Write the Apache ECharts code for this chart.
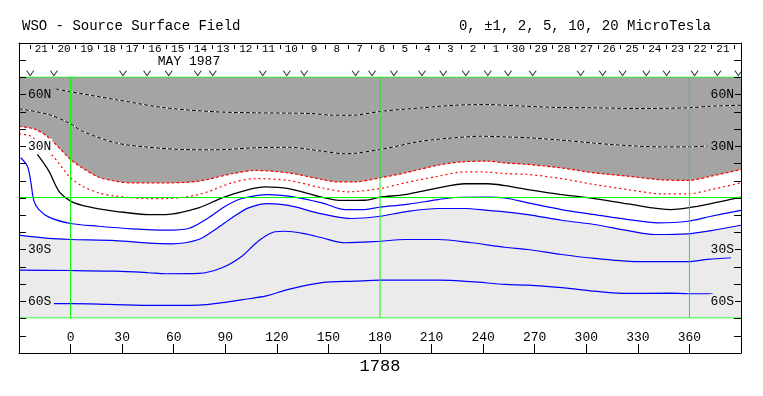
<!DOCTYPE html>
<html><head><meta charset="utf-8">
<script src="https://cdn.jsdelivr.net/npm/echarts@6/dist/echarts.min.js"></script>
<style>html,body{margin:0;padding:0;background:#fff}#c{width:763px;height:396px}</style>
</head><body><div id="c"></div>
<script>
// ---- data ----
const titleText = 'WSO - Source Surface Field';
const levelsText = '0, ±1, 2, 5, 10, 20 MicroTesla';
const monthText = 'MAY 1987';
const rotationText = '1788';
const dayLabels = ['21','20','19','18','17','16','15','14','13','12','11','10','9','8','7','6','5','4','3','2','1','30','29','28','27','26','25','24','23','22','21'];
const latLabels = {'60':'60N','30':'30N','-30':'30S','-60':'60S'};
const obsLon = [-23.5,-9.7,30.5,44.5,57.1,74.0,82.7,111.8,125.8,135.9,165.8,175.4,188.1,204.4,216.8,229.9,242.7,254.5,268.8,296.7,309.5,321.1,334.9,346.7,363.0,376.3,388.5];
const contourP10 = [[-8.7,63.1],[0,61.4],[26.1,56.9],[55.2,52.1],[84.2,49.8],[107.4,49.2],[140.3,48.8],[152,47.8],[163.6,47.8],[181,50.1],[204.2,52.1],[223.6,53.6],[242.7,54.0],[252.6,53.6],[279.7,52.4],[304.8,52.1],[330.2,51.7],[359.2,52.1],[372,53],[390,53.6]];
const contourP5 = [[-30,51.5],[-12.6,48.2],[0,42.8],[6.8,38.5],[26.1,31.8],[45.5,29.2],[64.9,27.9],[84.2,27.7],[107.4,28.9],[126.8,29.2],[146.2,26.9],[159.7,25.4],[180,27.9],[204.2,32.7],[223.6,34.7],[239,35.6],[252.6,35.2],[266.1,34.7],[285.5,33.3],[314.5,30.8],[343.6,29.4],[359,29.4],[370.5,29.9]];
const contourP2 = [[-30,41.4],[-20.3,39.5],[-12.6,34.7],[0,22.1],[6.8,17.2],[16.4,11.8],[26.1,9.5],[35.8,8.5],[55.2,8.5],[74.5,9.5],[93.9,13.8],[107.4,15.7],[126.8,14.3],[146.2,10.5],[155.8,9.1],[165.5,9.1],[180,11.4],[194.5,14.3],[213.9,18.8],[227.4,20.7],[242.9,21.1],[252.6,20.1],[266.1,19.2],[285.5,17.2],[304.8,14.3],[324.2,12.4],[343.6,10.3],[359,9.9],[372.6,12.4],[390,16.3]];
const contourP1 = [[-30,37],[-23.2,35.6],[-10.6,24.4],[0,11.4],[6.8,6.6],[16.4,2.7],[26.1,0.8],[45.5,-0.6],[55.2,-0.6],[74.5,1.7],[93.9,8.5],[107.4,11],[126.8,9.9],[146.2,5.6],[161.6,3.3],[180,5.2],[194.5,8.5],[213.9,12.4],[229.4,14.9],[242.9,14.7],[252.6,13.9],[266.1,13.4],[285.5,11],[304.8,7.5],[324.2,4.6],[343.6,2.1],[359,2.1],[372.6,4.6],[390,8.5]];
const contour0 = [[-19.3,25],[-12.6,15.3],[-6.8,3.7],[0,-2.1],[6.8,-4.6],[16.4,-6.6],[26.1,-8],[45.5,-9.9],[55.2,-9.9],[74.5,-6],[88.1,-0.2],[103.5,4.6],[113.2,6.2],[126.8,5.2],[146.2,0.2],[157.8,-1.7],[171.3,-1.6],[180,0.2],[194.5,1.7],[213.9,5.6],[229.4,8],[242.9,8],[252.6,6.9],[266.1,4.6],[285.5,1.7],[304.8,-0.6],[324.2,-3.7],[349.4,-7],[359,-6],[372.6,-3.5],[390,0.2]];
const contourN1 = [[-29,23.1],[-25.1,18.2],[-23.2,9.5],[-21.3,-2.1],[-18.4,-7],[-12.6,-11.4],[0,-15.1],[16.4,-16.7],[35.8,-18.2],[55.2,-19],[68.7,-18],[80.3,-11.8],[90,-5.1],[99.7,-0.6],[115.1,1.7],[126.8,0.8],[146.2,-3.1],[159.7,-7],[171.3,-7],[180,-5.6],[194.5,-4.1],[213.9,-1.2],[223.6,0],[242.9,0.2],[252.6,-0.3],[266.1,-3.1],[285.5,-7],[304.8,-9.9],[324.2,-12.8],[341.6,-14.7],[359,-13.8],[372.6,-10.9],[390,-7.5]];
const contourN2 = [[-30,-21.9],[-12.6,-23.8],[0,-24.4],[26.1,-25],[45.5,-26.5],[59,-26.9],[74.5,-24.4],[84.2,-18.6],[93.9,-11.8],[103.5,-6],[115.1,-3.5],[126.8,-4.6],[146.2,-9.5],[163.6,-12.2],[180,-10.9],[194.5,-8.3],[213.9,-6.4],[229.4,-6.4],[242.9,-7.5],[252.6,-8.3],[266.1,-9.9],[285.5,-13.2],[304.8,-15.7],[324.2,-19.2],[339.7,-21.5],[359,-21.1],[372.6,-19.2],[390,-16.1]];
const contourN5 = [[-30,-42.2],[0,-42.4],[26.1,-42.8],[45.5,-43.7],[55.2,-44.3],[74.5,-44.1],[88.1,-40.8],[99.7,-34.1],[107.4,-26.9],[113.2,-22.5],[119,-19.9],[124.8,-19.6],[136.5,-21.1],[146.2,-23.4],[159.7,-26.3],[180,-25.4],[194.5,-24.4],[213.9,-24.4],[233.2,-26.3],[252.6,-28.9],[266.1,-30.2],[285.5,-33.1],[304.8,-35.4],[332,-37.3],[359,-37.3],[370.6,-36],[384.2,-35]];
const contourN10 = [[-9.7,-61.7],[0,-61.7],[22.2,-62.1],[49.4,-62.7],[74.5,-62.5],[88.1,-61.1],[103.5,-58.8],[113.2,-57.3],[126.8,-53.4],[146.2,-49.5],[165.5,-48.6],[180,-48],[213.9,-48],[233.2,-48.9],[252.6,-50.5],[266.1,-50.9],[285.5,-52.4],[308.7,-54.8],[324.2,-55.7],[349.4,-55.6],[359,-55.9],[373.5,-55.9]];
const guideLon = [0, 180, 360];
const guideLat = [0, 70, -70];
const lonRange = [-30, 390];
const latRange = [-70, 70];
const obsMarkLat = 72.5;

// ---- chart ----
const FONT = 'Liberation Mono';
const DK = '#a4a4a4', LT = '#ebebeb', GREEN = '#00ff00';
const chart = echarts.init(document.getElementById('c'), null, {renderer: 'canvas'});

const rich = {
  dk: {backgroundColor: DK, padding: [1, 1], fontFamily: FONT, fontSize: 13, color: '#000'},
  wt: {backgroundColor: '#fff', padding: [1, 1], fontFamily: FONT, fontSize: 13, color: '#000'},
  lt: {backgroundColor: LT, padding: [1, 1], fontFamily: FONT, fontSize: 13, color: '#000'}
};
const leftBg = {'60': 'dk', '30': 'wt', '-30': 'lt', '-60': 'lt'};
const rightBg = {'60': 'dk', '30': 'dk', '-30': 'lt', '-60': 'lt'};

function contour(data, color, width, type, z) {
  return {type: 'line', xAxisIndex: 2, yAxisIndex: 2, data, symbol: 'none', smooth: 0.3,
    lineStyle: {color, width, type}, z, silent: true, animation: false};
}
function guide(data) {
  return {type: 'line', xAxisIndex: 2, yAxisIndex: 2, data, symbol: 'none', z: 7, silent: true,
    lineStyle: {color: GREEN, width: 1, type: 'solid', opacity: 1}};
}
const guideSeries = guideLon.map(l => guide([[l, latRange[0]], [l, latRange[1]]]))
  .concat(guideLat.map(b => guide([[lonRange[0], b], [lonRange[1], b]])));

const option = {
  animation: false,
  backgroundColor: '#fff',
  grid: [
    {left: 19, right: 22, top: 43, bottom: 43, outerBoundsMode: 'none', containLabel: false},
    {left: 19, right: 22, top: 77, bottom: 78, outerBoundsMode: 'none', containLabel: false},
    {left: 30, right: 28.7, top: 45, height: 8, outerBoundsMode: 'none', containLabel: false}
  ],
  xAxis: [
    {gridIndex: 0, type: 'value', position: 'bottom', min: lonRange[0], max: lonRange[1], interval: 30, z: 10,
      axisLine: {show: true, onZero: false, lineStyle: {color: '#000', width: 1}},
      axisTick: {show: true, inside: true, length: 9, lineStyle: {color: '#000'}},
      axisLabel: {inside: true, margin: 9, fontFamily: FONT, fontSize: 13, color: '#000',
        formatter: v => (v >= 0 && v <= 360 ? String(v) : '')},
      splitLine: {show: false}},
    {gridIndex: 0, type: 'value', position: 'top', min: lonRange[0], max: lonRange[1], z: 10,
      axisLine: {show: true, onZero: false, lineStyle: {color: '#000', width: 1}},
      axisTick: {show: false}, axisLabel: {show: false}, splitLine: {show: false}},
    {gridIndex: 1, type: 'value', min: lonRange[0], max: lonRange[1], show: false,
      axisLine: {show: false, onZero: false}, splitLine: {show: false}},
    {gridIndex: 2, type: 'category', position: 'top', data: dayLabels, boundaryGap: true, z: 10,
      axisLine: {show: true, onZero: false, lineStyle: {color: '#000', opacity: 0}},
      axisTick: {show: true, inside: true, length: 4, interval: 0, lineStyle: {color: '#000', opacity: 1}},
      axisLabel: {inside: true, margin: -1, interval: 0, fontFamily: FONT, fontSize: 11, color: '#000'}}
  ],
  yAxis: [
    {gridIndex: 0, type: 'value', position: 'left', min: -90, max: 90, interval: 10, z: 10,
      axisLine: {show: true, onZero: false, lineStyle: {color: '#000'}},
      axisTick: {show: true, inside: true, length: 7, lineStyle: {color: '#000'}},
      axisLabel: {inside: true, margin: 8, showMinLabel: false, showMaxLabel: false, rich,
        formatter: v => latLabels[String(v)] ? '{' + leftBg[String(v)] + '|' + latLabels[String(v)] + '}' : ''},
      splitLine: {show: false}},
    {gridIndex: 0, type: 'value', position: 'right', min: -90, max: 90, interval: 10, z: 10,
      axisLine: {show: true, onZero: false, lineStyle: {color: '#000'}},
      axisTick: {show: true, inside: true, length: 7, lineStyle: {color: '#000'}},
      axisLabel: {inside: true, margin: 6, showMinLabel: false, showMaxLabel: false, rich,
        formatter: v => latLabels[String(v)] ? '{' + rightBg[String(v)] + '|' + latLabels[String(v)] + '}' : ''},
      splitLine: {show: false}},
    {gridIndex: 1, type: 'value', min: latRange[0], max: latRange[1], show: false,
      axisLine: {show: false, onZero: false}, splitLine: {show: false}},
    {gridIndex: 2, type: 'value', show: false, splitLine: {show: false}}
  ],
  graphic: [
    {type: 'text', left: 22, top: 19, style: {text: titleText, font: '14px "Liberation Mono"', fill: '#000'}},
    {type: 'text', right: 52, top: 19, style: {text: levelsText, font: '14px "Liberation Mono"', fill: '#000'}},
    {type: 'text', x: 189, y: 62, style: {text: monthText, font: '13px "Liberation Mono"', fill: '#000', align: 'center', verticalAlign: 'middle'}},
    {type: 'text', x: 380, y: 366, style: {text: rotationText, font: '17px "Liberation Mono"', fill: '#000', align: 'center', verticalAlign: 'middle'}}
  ],
  series: [
    {type: 'line', xAxisIndex: 2, yAxisIndex: 2, data: contourP2, symbol: 'none', smooth: 0.3, z: 1,
      lineStyle: {width: 0, opacity: 0}, areaStyle: {color: DK, opacity: 1, origin: 'end'}, silent: true},
    {type: 'line', xAxisIndex: 2, yAxisIndex: 2, data: contourN2, symbol: 'none', smooth: 0.3, z: 1,
      lineStyle: {width: 0, opacity: 0}, areaStyle: {color: LT, opacity: 1, origin: 'start'}, silent: true}
  ].concat(guideSeries).concat([
    contour(contourP10, '#fff', 1, 'solid', 4),
    contour(contourP10, '#000', 1, [4, 2], 5),
    contour(contourP5, '#fff', 1, 'solid', 4),
    contour(contourP5, '#000', 1, [4, 2], 5),
    contour(contourP2, '#ff0000', 1.2, [3, 2], 5),
    contour(contourP1, '#ff0000', 1.2, [2, 3], 5),
    contour(contour0, '#000', 1.3, 'solid', 5),
    contour(contourN1, '#0000ff', 1.2, 'solid', 5),
    contour(contourN2, '#0000ff', 1.2, 'solid', 5),
    contour(contourN5, '#0000ff', 1.2, 'solid', 5),
    contour(contourN10, '#0000ff', 1.2, 'solid', 5),
    {type: 'scatter', xAxisIndex: 0, yAxisIndex: 0, z: 6, silent: true,
      data: obsLon.map(l => [l, obsMarkLat]),
      symbol: 'path://M0,0L4,6L8,0', symbolSize: [7, 5],
      itemStyle: {color: 'none', borderColor: '#000', borderWidth: 1}}
  ])
};
chart.setOption(option);
</script></body></html>
